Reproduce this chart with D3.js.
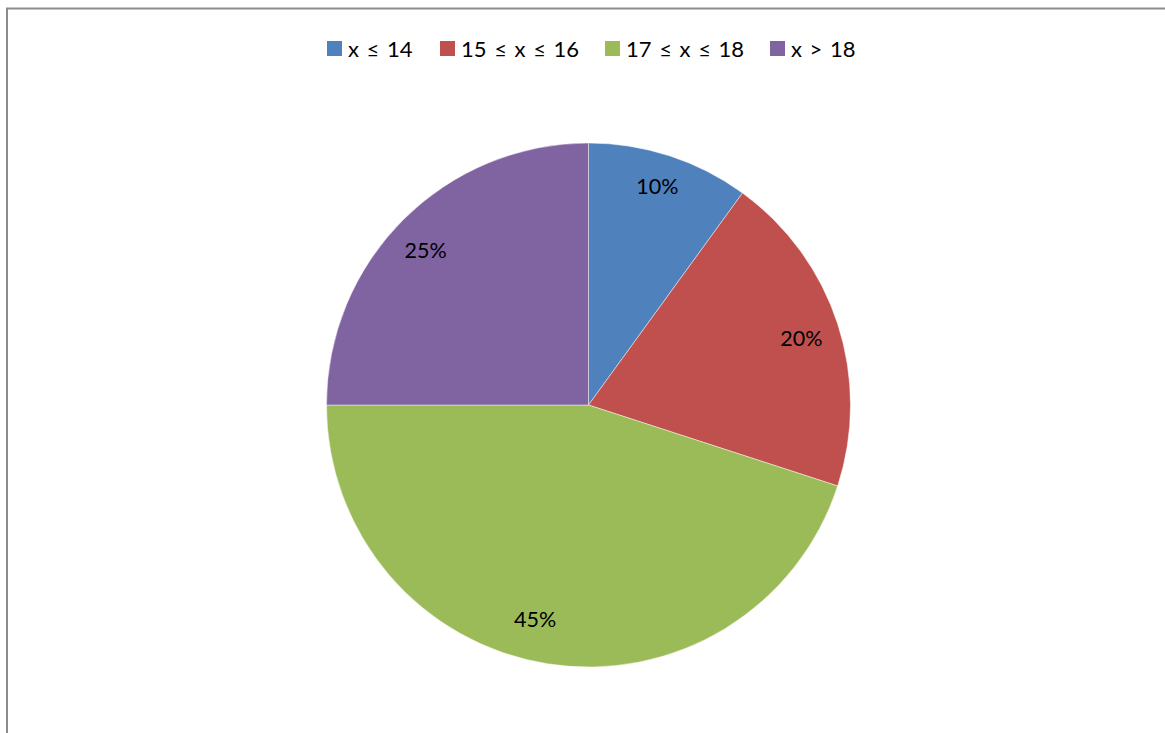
<!DOCTYPE html>
<html>
<head>
<meta charset="utf-8">
<script src="https://cdn.jsdelivr.net/npm/d3@7"></script>
<style>
  html, body { margin: 0; padding: 0; background: #fff; }
  svg { display: block; }
</style>
</head>
<body>
<svg id="chart" width="1165" height="733"></svg>
<script>
// Share of values per age band
const categories = ["x ≤ 14", "15 ≤ x ≤ 16", "17 ≤ x ≤ 18", "x > 18"];
const shares = [10, 20, 45, 25];
const labels = ["10%", "20%", "45%", "25%"];
const colors = ["#4F81BD", "#C0504D", "#9BBB59", "#8064A2"];

const svg = d3.select("#chart");
const W = 1165, H = 733;
const font = "Lato, 'Open Sans', sans-serif";

// Chart frame (continues past the right and bottom edges)
svg.append("path")
  .attr("d", `M7,${H + 5} V8.5 H${W + 5}`)
  .attr("fill", "none")
  .attr("stroke", "#8c8c8c")
  .attr("stroke-width", 2);

const cx = 588.5, cy = 405, r = 262;

const color = d3.scaleOrdinal().domain(categories).range(colors);
const pie = d3.pie().sort(null).value(d => d.value);
const data = categories.map((c, i) => ({ name: c, value: shares[i], label: labels[i] }));
const arcs = pie(data);

const arc = d3.arc().innerRadius(0).outerRadius(r);
const labelArc = d3.arc().innerRadius(226).outerRadius(226);
// small best-fit nudges for the percentage labels
const labelNudge = [[-1, -4], [-2, 3], [-18, -9], [-3, 5]];

const g = svg.append("g").attr("transform", `translate(${cx},${cy})`);

g.selectAll("path.slice")
  .data(arcs)
  .join("path")
  .attr("class", "slice")
  .attr("d", arc)
  .attr("fill", d => color(d.data.name))
  .attr("stroke", "rgba(255,255,255,0.45)")
  .attr("stroke-width", 1);

g.selectAll("text.pct")
  .data(arcs)
  .join("text")
  .attr("class", "pct")
  .attr("transform", (d, i) => {
    const [x, y] = labelArc.centroid(d);
    return `translate(${x + labelNudge[i][0]},${y + labelNudge[i][1]})`;
  })
  .attr("text-anchor", "middle")
  .attr("dominant-baseline", "central")
  .attr("font-family", font)
  .attr("font-size", 21.5)
  .attr("fill", "#000")
  .text(d => d.data.label);

// Legend along the top
const legend = svg.append("g").attr("transform", "translate(0,48)");
const legendX = [327, 440, 605, 770];
const items = legend.selectAll("g.item")
  .data(categories)
  .join("g")
  .attr("class", "item")
  .attr("transform", (d, i) => `translate(${legendX[i]},0)`);

items.append("rect")
  .attr("x", 0).attr("y", -7)
  .attr("width", 15).attr("height", 15)
  .attr("fill", d => color(d));

items.append("text")
  .attr("x", 21)
  .attr("y", 0)
  .attr("dominant-baseline", "central")
  .attr("font-family", font)
  .attr("font-size", 22)
  .attr("word-spacing", 2)
  .attr("fill", "#000")
  .text(d => d);
</script>
</body>
</html>
